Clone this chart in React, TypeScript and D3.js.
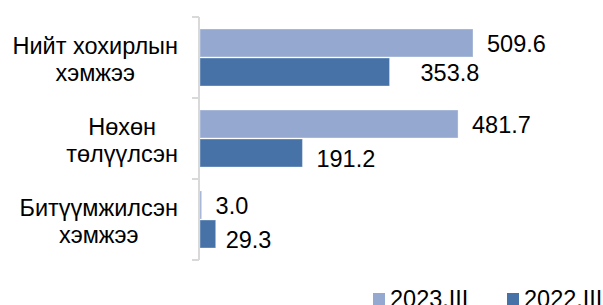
import { useEffect, useRef } from 'react';
import * as d3 from 'd3';

const categories = ['Нийт хохирлын хэмжээ', 'Нөхөн төлүүлсэн', 'Битүүмжилсэн хэмжээ'];
const categoryLines = [['Нийт хохирлын', 'хэмжээ'], ['Нөхөн', 'төлүүлсэн'], ['Битүүмжилсэн', 'хэмжээ']];
const seriesNames = ['2023.III', '2022.III'];
const values2023 = [509.6, 481.7, 3.0];
const values2022 = [353.8, 191.2, 29.3];

const seriesColors = ['#95a9d0', '#4672a7'];

// Excel-style manual nudges for a few data labels: [dx, dy]
const labelNudge: Record<string, [number, number]> = {
  '2022.III|0': [17, 0],
  '2022.III|1': [0, 5],
  '2022.III|2': [-4, 5],
};

export default function App() {
  const svgRef = useRef<SVGSVGElement>(null);

  useEffect(() => {
    if (!svgRef.current) return;
    const width = 603;
    const height = 305;
    const font = '"Liberation Sans", Arial, sans-serif';
    const fontSize = 23.5;

    const svg = d3.select(svgRef.current);
    svg.selectAll('*').remove();
    svg.attr('width', width).attr('height', height).attr('viewBox', `0 0 ${width} ${height}`);

    const x = d3.scaleLinear().domain([0, 560]).range([200, 500]);
    const y = d3.scaleBand<string>().domain(categories).range([17, 260]).padding(0);
    const inner = d3.scaleBand<string>().domain(seriesNames).range([12, 69]).paddingInner(0.035);

    const rows = categories.flatMap((c, i) => [
      { cat: c, idx: i, series: seriesNames[0], value: values2023[i], color: seriesColors[0] },
      { cat: c, idx: i, series: seriesNames[1], value: values2022[i], color: seriesColors[1] },
    ]);

    // bars
    svg
      .append('g')
      .selectAll('rect')
      .data(rows)
      .join('rect')
      .attr('x', x(0))
      .attr('y', (d) => (y(d.cat) ?? 0) + (inner(d.series) ?? 0))
      .attr('width', (d) => x(d.value) - x(0))
      .attr('height', inner.bandwidth())
      .attr('fill', (d) => d.color)
      .attr('stroke', '#ffffff')
      .attr('stroke-opacity', 0.35)
      .attr('stroke-width', 1);

    // axis line with ticks on the left
    const axis = svg.append('g').attr('transform', `translate(${x(0) - 1},0)`);
    axis
      .append('line')
      .attr('x1', 0)
      .attr('x2', 0)
      .attr('y1', y.range()[0])
      .attr('y2', y.range()[1])
      .attr('stroke', '#d9d9d9')
      .attr('stroke-width', 2);
    const tickYs = [...categories.map((c) => y(c) ?? 0), y.range()[1]];
    axis
      .selectAll('line.tick')
      .data(tickYs)
      .join('line')
      .attr('class', 'tick')
      .attr('x1', -7)
      .attr('x2', 0)
      .attr('y1', (d) => d)
      .attr('y2', (d) => d)
      .attr('stroke', '#d9d9d9')
      .attr('stroke-width', 2);

    // value labels
    svg
      .append('g')
      .selectAll('text')
      .data(rows)
      .join('text')
      .attr('x', (d) => x(d.value) + 14 + (labelNudge[`${d.series}|${d.idx}`]?.[0] ?? 0))
      .attr(
        'y',
        (d) =>
          (y(d.cat) ?? 0) +
          (inner(d.series) ?? 0) +
          inner.bandwidth() / 2 +
          (labelNudge[`${d.series}|${d.idx}`]?.[1] ?? 0),
      )
      .attr('dy', '0.4em')
      .attr('font-family', font)
      .attr('font-size', fontSize)
      .attr('fill', '#000')
      .text((d) => d.value.toFixed(1));

    // category labels: block right-aligned, lines centred in block
    const labelRight = 178;
    const lineH = 27;
    categoryLines.forEach((lines, i) => {
      const g = svg.append('g');
      const cy = (y(categories[i]) ?? 0) + y.bandwidth() / 2 + 2;
      const texts = g
        .selectAll('text')
        .data(lines)
        .join('text')
        .attr('y', (_, j) => cy + (j - (lines.length - 1) / 2) * lineH)
        .attr('dy', '0.35em')
        .attr('text-anchor', 'middle')
        .attr('font-family', font)
        .attr('font-size', fontSize)
        .attr('fill', '#000')
        .text((d) => d);
      let maxW = 0;
      texts.each(function () {
        maxW = Math.max(maxW, (this as SVGTextElement).getComputedTextLength());
      });
      texts.attr('x', labelRight - maxW / 2);
    });

    // legend
    const legendX = [373, 507];
    const legend = svg
      .append('g')
      .selectAll('g')
      .data(seriesNames)
      .join('g')
      .attr('transform', (_, i) => `translate(${legendX[i]},293)`);
    legend
      .append('rect')
      .attr('width', 12)
      .attr('height', 12)
      .attr('fill', (_, i) => seriesColors[i]);
    legend
      .append('text')
      .attr('x', 17)
      .attr('y', 14)
      .attr('font-family', font)
      .attr('font-size', fontSize)
      .attr('fill', '#000')
      .text((d) => d);
  }, []);

  return (
    <div style={{ position: 'absolute', left: 0, top: 0, width: 603, height: 305, background: '#fff' }}>
      <svg ref={svgRef} style={{ display: 'block' }} />
    </div>
  );
}
